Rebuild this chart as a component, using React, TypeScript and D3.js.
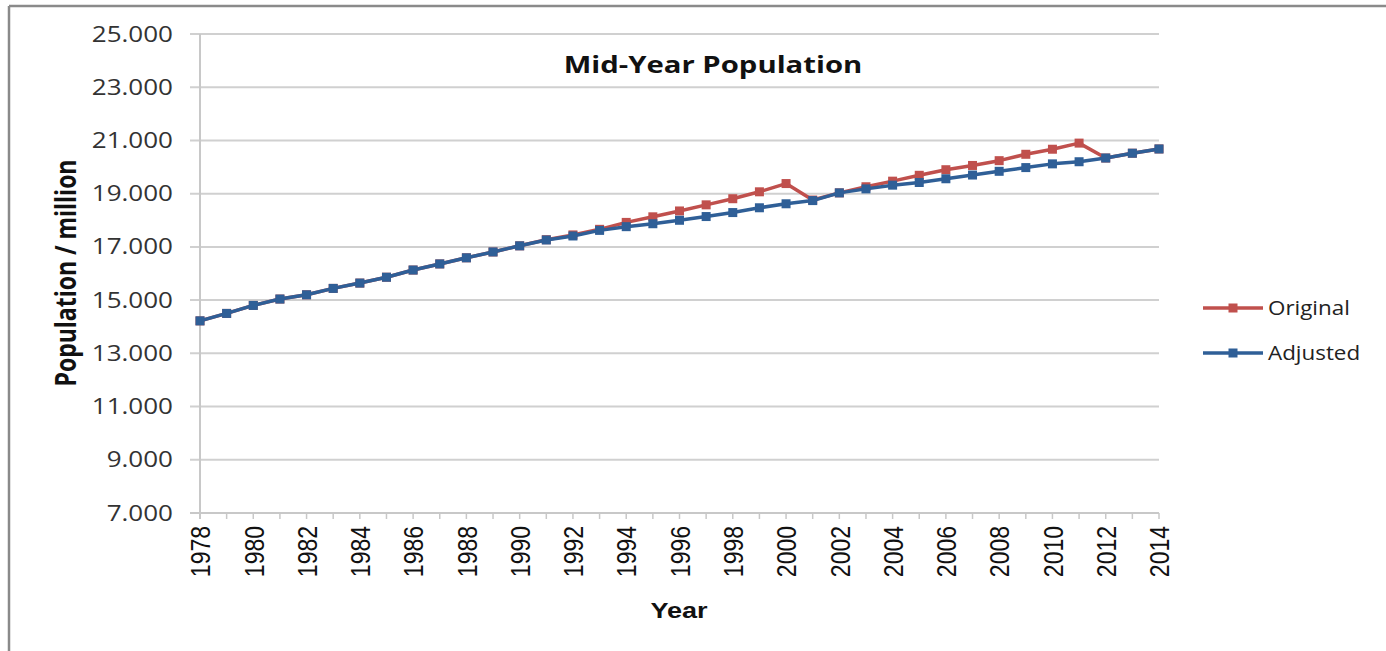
import React from "react";
import * as d3 from "d3";

const years = d3.range(1978, 2015);
const adjusted = [
  14.22, 14.5, 14.8, 15.04, 15.2, 15.44, 15.64, 15.86, 16.13, 16.36, 16.59, 16.81,
  17.04, 17.26, 17.41, 17.62, 17.76, 17.87, 18.0, 18.14, 18.29, 18.47, 18.62,
  18.74, 19.03, 19.18, 19.32, 19.42, 19.56, 19.7, 19.84, 19.98, 20.12, 20.2,
  20.34, 20.52, 20.68,
];
const original = [
  14.22, 14.5, 14.8, 15.04, 15.2, 15.44, 15.64, 15.86, 16.13, 16.36, 16.59, 16.81,
  17.04, 17.27, 17.45, 17.66, 17.92, 18.13, 18.35, 18.58, 18.81, 19.07, 19.38,
  18.76, 19.03, 19.26, 19.47, 19.69, 19.9, 20.06, 20.24, 20.48, 20.67, 20.9,
  20.34, 20.52, 20.68,
];
const yTicks = [7, 9, 11, 13, 15, 17, 19, 21, 23, 25];
const xLabelYears = d3.range(1978, 2015, 2);
const seriesNames = ["Original", "Adjusted"];
const seriesColors = ["#c0504d", "#2f5f97"];

const W = 1386;
const H = 651;
const plot = { left: 200, right: 1159, top: 34, bottom: 513 };
// text in this chart is rendered slightly wide
const STRETCH = 1.24;

export default function App() {
  const x = d3.scaleLinear().domain([1978, 2014]).range([plot.left, plot.right]);
  const y = d3.scaleLinear().domain([7, 25]).range([plot.bottom, plot.top]);
  const fmt = d3.format(".3f");
  const line = d3
    .line<number>()
    .x((_, i) => x(years[i]))
    .y((d) => y(d));
  const series = [original, adjusted];
  const sans = "'Open Sans', 'Liberation Sans', sans-serif";
  const arial = "'Liberation Sans', Arial, sans-serif";

  return (
    <svg
      width={W}
      height={H}
      style={{ position: "absolute", left: 0, top: 0, background: "#fff" }}
    >
      {/* outer frame */}
      <line x1={9} x2={W} y1={6} y2={6} stroke="#8a8a8a" strokeWidth={2.5} />
      <line x1={9} x2={9} y1={6} y2={H} stroke="#8a8a8a" strokeWidth={2.5} />

      {/* horizontal gridlines and y labels */}
      {yTicks.map((t) => (
        <g key={t}>
          <line
            x1={plot.left - 10}
            x2={plot.right}
            y1={y(t)}
            y2={y(t)}
            stroke="#d0d0d0"
            strokeWidth={2}
          />
          <text
            transform={`translate(173,${y(t)}) scale(${STRETCH},1)`}
            dy="0.36em"
            textAnchor="end"
            fontFamily={sans}
            fontSize={21}
            fill="#333"
          >
            {fmt(t)}
          </text>
        </g>
      ))}

      {/* axes */}
      <line x1={plot.left} x2={plot.left} y1={plot.top} y2={plot.bottom + 6} stroke="#c8c8c8" strokeWidth={2} />
      <line x1={plot.left - 10} x2={plot.right} y1={plot.bottom} y2={plot.bottom} stroke="#c8c8c8" strokeWidth={2} />
      {years.map((yr) => (
        <line
          key={yr}
          x1={x(yr)}
          x2={x(yr)}
          y1={plot.bottom}
          y2={plot.bottom + 6}
          stroke="#c8c8c8"
          strokeWidth={1.5}
        />
      ))}
      {xLabelYears.map((yr) => (
        <text
          key={yr}
          transform={`translate(${x(yr)},${plot.bottom + 13}) scale(${STRETCH},1) rotate(-90)`}
          dy="0.36em"
          textAnchor="end"
          fontFamily={arial}
          fontSize={23}
          fill="#111"
        >
          {yr}
        </text>
      ))}

      {/* series */}
      {series.map((vals, si) => (
        <g key={si}>
          <path d={line(vals) || ""} fill="none" stroke={seriesColors[si]} strokeWidth={3.5} strokeLinejoin="round" />
          {vals.map((v, i) => (
            <rect
              key={i}
              x={x(years[i]) - 4.5}
              y={y(v) - 4.5}
              width={9}
              height={9}
              fill={seriesColors[si]}
            />
          ))}
        </g>
      ))}

      {/* title */}
      <text
        transform={`translate(713,73) scale(${STRETCH - 0.02},1)`}
        textAnchor="middle"
        fontFamily={sans}
        fontWeight="bold"
        fontSize={24}
        fill="#111"
      >
        Mid-Year Population
      </text>

      {/* axis titles */}
      <text
        transform={`translate(66,273) scale(${STRETCH},1) rotate(-90)`}
        dy="0.36em"
        textAnchor="middle"
        fontFamily={sans}
        fontWeight="bold"
        fontSize={23}
        fill="#111"
      >
        Population / million
      </text>
      <text
        transform={`translate(679,618) scale(${STRETCH - 0.01},1)`}
        textAnchor="middle"
        fontFamily={arial}
        fontWeight="bold"
        fontSize={22}
        fill="#111"
      >
        Year
      </text>

      {/* legend */}
      {seriesNames.map((name, i) => {
        const ly = 308 + i * 45;
        return (
          <g key={name}>
            <line x1={1203} x2={1263} y1={ly} y2={ly} stroke={seriesColors[i]} strokeWidth={3.5} />
            <rect x={1228.5} y={ly - 4.5} width={9} height={9} fill={seriesColors[i]} />
            <text
              transform={`translate(1268,${ly}) scale(1.12,1)`}
              dy="0.36em"
              fontFamily={sans}
              fontSize={20}
              fill="#222"
            >
              {name}
            </text>
          </g>
        );
      })}
    </svg>
  );
}
